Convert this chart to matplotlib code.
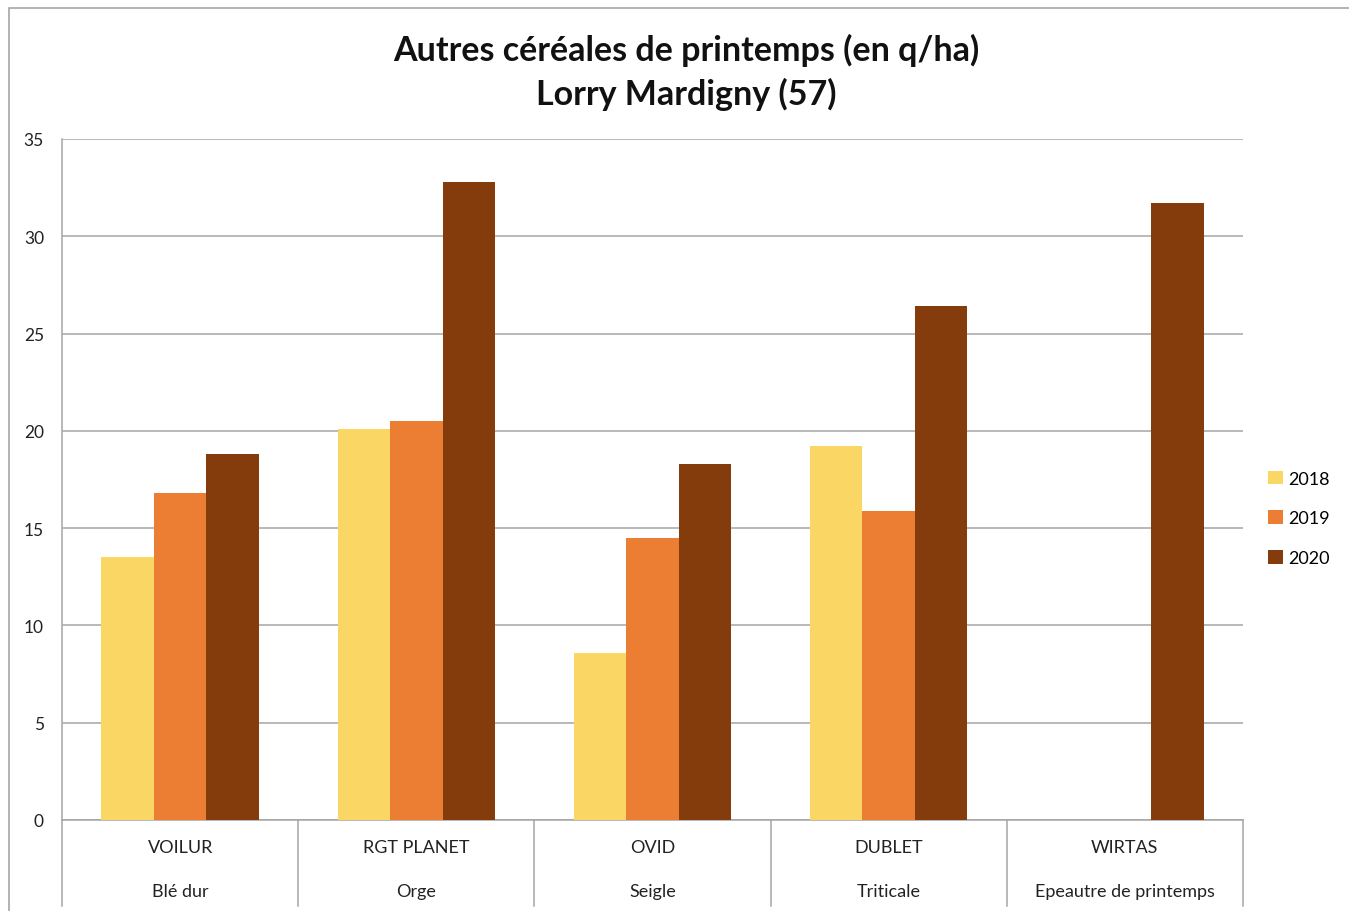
import numpy as np
import matplotlib.pyplot as plt
from matplotlib.patches import Rectangle

plt.rcParams['font.family'] = ['Lato', 'DejaVu Sans']

# data
varieties = ['VOILUR', 'RGT PLANET', 'OVID', 'DUBLET', 'WIRTAS']
crops = ['Blé dur', 'Orge', 'Seigle', 'Triticale', 'Epeautre de printemps']
years = ['2018', '2019', '2020']
y2018 = [13.5, 20.1, 8.6, 19.2, np.nan]
y2019 = [16.8, 20.5, 14.5, 15.9, np.nan]
y2020 = [18.8, 32.8, 18.3, 26.4, 31.7]
colors = ['#FAD664', '#EB7E32', '#843C0C']

fig = plt.figure(figsize=(13.49, 9.12), dpi=100)
ax = fig.add_axes([0.046, 0.0998, 0.8754, 0.7467])

# outer chart frame (cut on right/bottom like the source)
fig.patches.append(Rectangle((9 / 1349, -0.1), 1.2, 1.1 - 9 / 912,
                             transform=fig.transFigure, fill=False,
                             edgecolor='#A6A6A6', linewidth=1.2))

x = np.arange(len(varieties))
w = 0.222
for i, vals in enumerate([y2018, y2019, y2020]):
    ax.bar(x + (i - 1) * w, vals, width=w, color=colors[i], label=years[i], zorder=3)

ax.set_xlim(-0.5, len(varieties) - 0.5)
ax.set_ylim(0, 35)
ax.set_yticks(np.arange(0, 36, 5))
ax.tick_params(axis='y', length=0, pad=13, labelsize=12.5, labelcolor='#222222')
ax.set_xticks([])
ax.yaxis.grid(True, color='#A6A6A6', linewidth=1.1, zorder=0)
for s in ['top', 'right']:
    ax.spines[s].set_visible(False)
ax.spines['left'].set_color('#A6A6A6')
ax.spines['bottom'].set_color('#A6A6A6')
ax.spines['left'].set_linewidth(1.1)
ax.spines['bottom'].set_linewidth(1.1)

# two-level category axis
trans = ax.get_xaxis_transform()
for k in range(len(varieties) + 1):
    ax.plot([k - 0.5, k - 0.5], [0, -0.127], transform=trans, color='#A6A6A6',
            linewidth=1.1, clip_on=False)
for k in range(len(varieties)):
    ax.text(k, -0.04, varieties[k], transform=trans, ha='center', va='center',
            fontsize=13, color='#222222')
    ax.text(k, -0.104, crops[k], transform=trans, ha='center', va='center',
            fontsize=13, color='#222222')

fig.text(0.509, 0.945, 'Autres céréales de printemps (en q/ha)', ha='center',
         va='center', fontsize=24.5, fontweight='bold', color='#111111')
fig.text(0.509, 0.896, 'Lorry Mardigny (57)', ha='center', va='center',
         fontsize=24.5, fontweight='bold', color='#111111')

ax.legend(loc='center left', bbox_to_anchor=(1.0, 0.443), frameon=False,
          fontsize=13, handlelength=0.8, handleheight=0.8, handletextpad=0.3,
          labelspacing=1.3, borderaxespad=1.0)

fig.savefig('out.png', dpi=100)
